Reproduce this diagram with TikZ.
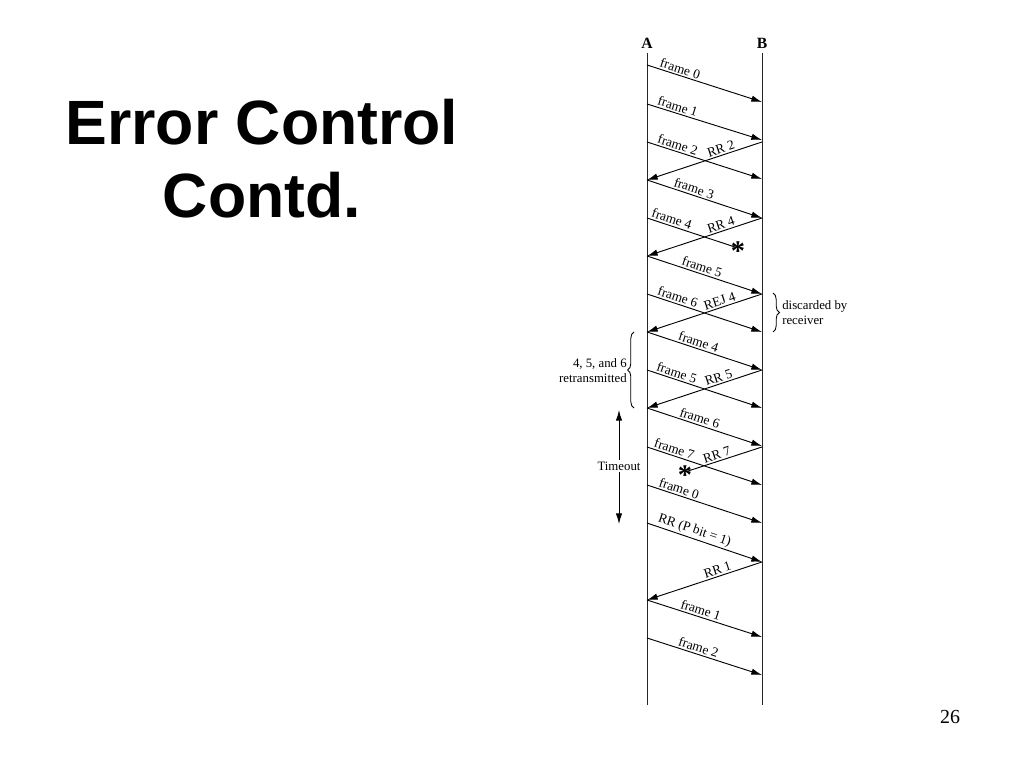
\documentclass[tikz,border=0pt]{standalone}
\usepackage{fontspec}
\setmainfont{Liberation Serif}
\newfontfamily\titlefont{Liberation Sans}
\usetikzlibrary{arrows.meta,decorations.pathreplacing}
\begin{document}
\begin{tikzpicture}[x=0.703125pt,y=-0.703125pt,
  msg/.style={line width=0.65pt,-{Latex[length=7.5pt,width=4.5pt]}},
  rmsg/.style={line width=0.65pt,{Latex[length=7.5pt,width=4.5pt]}-},
  lost/.style={line width=0.65pt},
  lbl/.style={font=\fontsize{9.4}{10}\selectfont, sloped, above, inner sep=1.2pt},
  life/.style={line width=0.65pt, black!85},
  hdr/.style={font=\fontsize{11}{12}\selectfont\bfseries, inner sep=0pt},
  note/.style={font=\fontsize{9}{10.5}\selectfont, inner sep=0pt},
  starmark/.style={font=\fontsize{20}{20}\selectfont\bfseries, inner sep=0pt, yshift=-2.5pt},
  bracestyle/.style={line width=0.6pt, decorate, decoration={brace, amplitude=4.5pt}},
  titletext/.style={font=\titlefont\fontsize{44}{51}\selectfont\bfseries, anchor=base}
]
\useasboundingbox (0,0) rectangle (1024,768);

% title
\node[titletext] (t1) at (262,145) {Error Control};
\node[titletext] (t2) at (262,218) {Contd.};
\node[font=\fontsize{14}{14}\selectfont, anchor=base] (pg) at (950,723) {26};

% lifelines
\node[hdr] (A) at (647,43) {A};
\node[hdr] (B) at (762,43) {B};
\coordinate (Atop) at (647,53); \coordinate (Abot) at (647,705);
\coordinate (Btop) at (762,53); \coordinate (Bbot) at (762,705);
\draw[life] (Atop) -- (Abot);
\draw[life] (Btop) -- (Bbot);

% event points
\coordinate (a1) at (647,65);   \coordinate (b1) at (762,102);
\coordinate (a2) at (647,104);  \coordinate (b2) at (762,140);
\coordinate (a3) at (647,142);  \coordinate (b3) at (762,179);
\coordinate (b3r) at (762,142); \coordinate (a4) at (647,180);
\coordinate (b4) at (762,218);  \coordinate (a5) at (647,218);
\coordinate (s1) at (738,248);  \coordinate (a6) at (647,256);
\coordinate (b6) at (762,294);  \coordinate (a7) at (647,294);
\coordinate (b7) at (762,332);  \coordinate (a8) at (647,332);
\coordinate (b8) at (762,370);  \coordinate (a9) at (647,370);
\coordinate (b9) at (762,408);  \coordinate (a10) at (647,408);
\coordinate (b10) at (762,446); \coordinate (a11) at (647,447);
\coordinate (b10r) at (762,447);\coordinate (b11) at (762,485);
\coordinate (s2) at (685,472);  \coordinate (a12) at (647,485);
\coordinate (b12) at (762,523); \coordinate (a13) at (647,523);
\coordinate (b13) at (762,562); \coordinate (a14) at (647,600);
\coordinate (b14) at (762,637); \coordinate (a15) at (647,638);
\coordinate (b15) at (762,675);

% messages
\draw[msg] (a1) -- (b1) node[lbl,pos=.27]{frame 0};
\draw[msg] (a2) -- (b2) node[lbl,pos=.25]{frame 1};
\draw[msg] (a3) -- (b3) node[lbl,pos=.25]{frame 2};
\draw[rmsg] (a4) -- (b3r) node[lbl,pos=.66]{RR 2};
\draw[msg] (a4) -- (b4) node[lbl,pos=.39]{frame 3};
\draw[lost] (a5) -- (s1) node[lbl,pos=.25]{frame 4};
\draw[rmsg] (a6) -- (b4) node[lbl,pos=.66]{RR 4};
\draw[msg] (a6) -- (b6) node[lbl,pos=.46]{frame 5};
\draw[msg] (a7) -- (b7) node[lbl,pos=.25]{frame 6};
\draw[rmsg] (a8) -- (b6) node[lbl,pos=.65]{REJ 4};
\draw[msg] (a8) -- (b8) node[lbl,pos=.43]{frame 4};
\draw[msg] (a9) -- (b9) node[lbl,pos=.24]{frame 5};
\draw[rmsg] (a10) -- (b8) node[lbl,pos=.64]{RR 5};
\draw[msg] (a10) -- (b10) node[lbl,pos=.44]{frame 6};
\draw[msg] (a11) -- (b11) node[lbl,pos=.22]{frame 7};
\draw[lost] (s2) -- (b10r) node[lbl,pos=.44]{RR 7};
\draw[msg] (a12) -- (b12) node[lbl,pos=.26]{frame 0};
\draw[msg] (a13) -- (b13) node[lbl,pos=.39]{RR (P bit = 1)};
\draw[rmsg] (a14) -- (b13) node[lbl,pos=.63]{RR 1};
\draw[msg] (a14) -- (b14) node[lbl,pos=.45]{frame 1};
\draw[msg] (a15) -- (b15) node[lbl,pos=.43]{frame 2};

% lost-frame marks
\node[starmark] (x1) at (s1) {*};
\node[starmark] (x2) at (s2) {*};

% braces
\coordinate (r1) at (773,293); \coordinate (r2) at (773,332);
\draw[bracestyle] (r1) -- (r2);
\node[note, anchor=west, align=left] (disc) at (782,313) {discarded by\\receiver};
\coordinate (l1) at (634,408); \coordinate (l2) at (634,332);
\draw[bracestyle] (l1) -- (l2);
\node[note, anchor=east, align=right] (retx) at (627,371) {4, 5, and 6\\retransmitted};

% timeout
\coordinate (to1) at (619,410); \coordinate (to2) at (619,524);
\draw[line width=0.65pt, {Latex[length=7.5pt,width=4.5pt]}-{Latex[length=7.5pt,width=4.5pt]}] (to1) -- (to2);
\node[note, fill=white, inner sep=1pt] (tout) at (619,466) {Timeout};
\end{tikzpicture}
\end{document}
